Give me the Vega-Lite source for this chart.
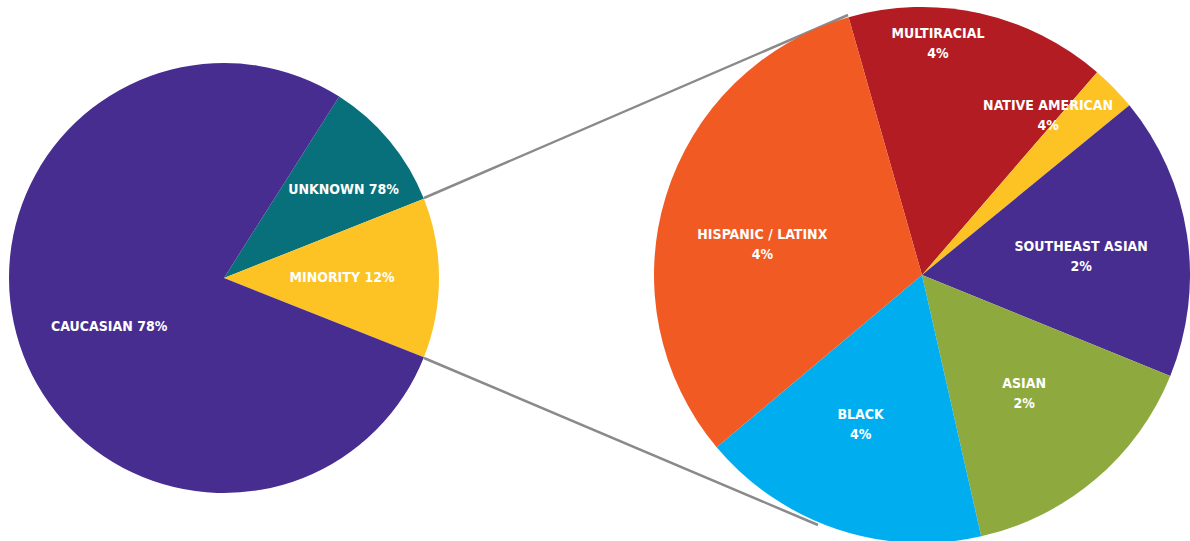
{
  "$schema": "https://vega.github.io/schema/vega-lite/v6.json",
  "width": 1190,
  "height": 541,
  "autosize": {"type": "none"},
  "padding": 0,
  "background": "white",
  "config": {"view": {"stroke": null}, "text": {"font": "DejaVu Sans Condensed", "fontWeight": "bold", "fontSize": 14, "fill": "white", "align": "center", "baseline": "middle", "lineBreak": "\n", "lineHeight": 20}},
  "datasets": {
    "slices": [
      {"pie": "left", "cat": "UNKNOWN", "share": 10, "ord": 1, "label": "UNKNOWN 78%"},
      {"pie": "left", "cat": "MINORITY", "share": 12, "ord": 2, "label": "MINORITY 12%"},
      {"pie": "left", "cat": "CAUCASIAN", "share": 78, "ord": 3, "label": "CAUCASIAN 78%"},
      {"pie": "right", "cat": "MULTIRACIAL", "share": 15.75, "ord": 1, "label": "MULTIRACIAL\n4%"},
      {"pie": "right", "cat": "NATIVE AMERICAN", "share": 2.75, "ord": 2, "label": "NATIVE AMERICAN\n4%"},
      {"pie": "right", "cat": "SOUTHEAST ASIAN", "share": 17.06, "ord": 3, "label": "SOUTHEAST ASIAN\n2%"},
      {"pie": "right", "cat": "ASIAN", "share": 15.31, "ord": 4, "label": "ASIAN\n2%"},
      {"pie": "right", "cat": "BLACK", "share": 17.44, "ord": 5, "label": "BLACK\n4%"},
      {"pie": "right", "cat": "HISPANIC / LATINX", "share": 31.69, "ord": 6, "label": "HISPANIC / LATINX\n4%"}
    ],
    "connectors": [
      {"x": 424, "y": 198, "x2": 848, "y2": 15},
      {"x": 424, "y": 358, "x2": 818, "y2": 525}
    ]
  },
  "resolve": {"scale": {"theta": "independent"}},
  "layer": [
    {
      "data": {"name": "connectors"},
      "mark": {"type": "rule", "color": "#8a8a8a", "strokeWidth": 2.5},
      "encoding": {
        "x": {"field": "x", "type": "quantitative", "scale": {"domain": [0, 1190], "nice": false, "zero": false}, "axis": null},
        "y": {"field": "y", "type": "quantitative", "scale": {"domain": [0, 541], "nice": false, "zero": false, "reverse": true}, "axis": null},
        "x2": {"field": "x2"},
        "y2": {"field": "y2"}
      }
    },
    {
      "data": {"name": "slices"},
      "transform": [{"filter": "datum.pie === 'left'"}],
      "encoding": {
        "x": {"datum": 224, "type": "quantitative"},
        "y": {"datum": 278, "type": "quantitative"},
        "theta": {"field": "share", "type": "quantitative", "stack": true, "scale": {"range": [0.5655, 6.8487]}},
        "order": {"field": "ord", "type": "quantitative"}
      },
      "layer": [
        {
          "mark": {"type": "arc", "outerRadius": 215},
          "encoding": {
            "color": {"field": "cat", "type": "nominal", "legend": null,
              "scale": {
                "domain": ["UNKNOWN", "MINORITY", "CAUCASIAN", "MULTIRACIAL", "NATIVE AMERICAN", "SOUTHEAST ASIAN", "ASIAN", "BLACK", "HISPANIC / LATINX"],
                "range": ["#07707a", "#fdc324", "#472d8f", "#b41c23", "#fdc324", "#472d8f", "#8eaa3e", "#00aeef", "#f15a22"]
              }
            }
          }
        },
        {
          "mark": {"type": "text", "radius": 150, "dx": 4, "dy": 8},
          "encoding": {"text": {"condition": {"test": "datum.cat === 'UNKNOWN'", "field": "label"}, "value": ""}}
        },
        {
          "mark": {"type": "text", "radius": 118},
          "encoding": {"text": {"condition": {"test": "datum.cat === 'MINORITY'", "field": "label"}, "value": ""}}
        },
        {
          "mark": {"type": "text", "radius": 125, "dx": 4, "dy": 10},
          "encoding": {"text": {"condition": {"test": "datum.cat === 'CAUCASIAN'", "field": "label"}, "value": ""}}
        }
      ]
    },
    {
      "data": {"name": "slices"},
      "transform": [{"filter": "datum.pie === 'right'"}],
      "encoding": {
        "x": {"datum": 922, "type": "quantitative"},
        "y": {"datum": 275, "type": "quantitative"},
        "theta": {"field": "share", "type": "quantitative", "stack": true, "scale": {"range": [-0.2775, 6.0057]}},
        "order": {"field": "ord", "type": "quantitative"}
      },
      "layer": [
        {
          "mark": {"type": "arc", "outerRadius": 268},
          "encoding": {"color": {"field": "cat", "type": "nominal", "legend": null}}
        },
        {
          "mark": {"type": "text", "radius": 232, "dx": -34, "dy": -14},
          "encoding": {"text": {"condition": {"test": "datum.cat === 'MULTIRACIAL'", "field": "label"}, "value": ""}}
        },
        {
          "mark": {"type": "text", "radius": 204, "dx": -20, "dy": -27},
          "encoding": {"text": {"condition": {"test": "datum.cat === 'NATIVE AMERICAN'", "field": "label"}, "value": ""}}
        },
        {
          "mark": {"type": "text", "radius": 161, "dy": -4},
          "encoding": {"text": {"condition": {"test": "datum.cat === 'SOUTHEAST ASIAN'", "field": "label"}, "value": ""}}
        },
        {
          "mark": {"type": "text", "radius": 161, "dx": -2, "dy": -14},
          "encoding": {"text": {"condition": {"test": "datum.cat === 'ASIAN'", "field": "label"}, "value": ""}}
        },
        {
          "mark": {"type": "text", "radius": 161, "dx": -10, "dy": -13},
          "encoding": {"text": {"condition": {"test": "datum.cat === 'BLACK'", "field": "label"}, "value": ""}}
        },
        {
          "mark": {"type": "text", "radius": 167, "dy": 9},
          "encoding": {"text": {"condition": {"test": "datum.cat === 'HISPANIC / LATINX'", "field": "label"}, "value": ""}}
        }
      ]
    }
  ]
}
